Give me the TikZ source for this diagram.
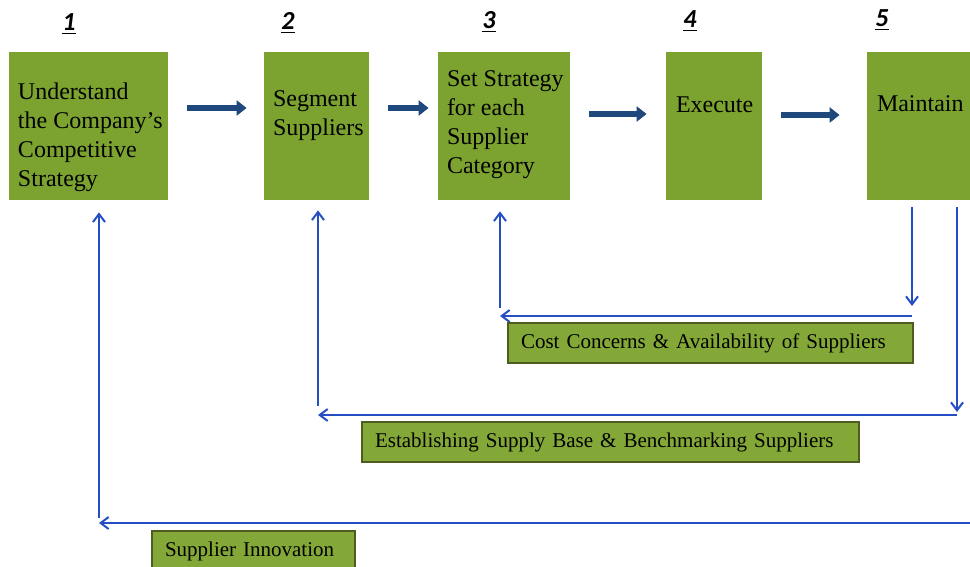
\documentclass[tikz,border=0pt]{standalone}
\usepackage{fontspec}
\setmainfont{Liberation Serif}
\newfontfamily\numfont{Carlito}
\usetikzlibrary{arrows.meta}

\definecolor{stepGreen}{RGB}{124,163,48}
\definecolor{noteGreen}{RGB}{132,168,56}
\definecolor{noteEdge}{RGB}{78,92,34}
\definecolor{flowBlue}{RGB}{31,73,125}
\definecolor{backBlue}{RGB}{38,78,196}

\tikzset{
  stepbox/.style={fill=stepGreen, minimum height=74pt, inner sep=0pt},
  steptext/.style={anchor=north west, inner sep=0pt, align=left, font=\fontsize{12}{14.4}\selectfont},
  stepnum/.style={font=\numfont\fontsize{13}{15}\selectfont\bfseries\itshape},
  flowarrow/.style={draw=flowBlue, line width=2.8pt, -{Triangle[length=5pt,width=7.5pt]}},
  backarrow/.style={draw=backBlue, line width=1pt, -{Straight Barb[length=4pt,width=6pt]}},
  notebox/.style={draw=noteEdge, fill=noteGreen, line width=1.3pt, minimum height=20pt, inner xsep=6.5pt, inner ysep=0pt, align=left, font=\fontsize{10.5}{12}\selectfont}
}

\begin{document}
\begin{tikzpicture}[x=0.5pt, y=0.5pt, yscale=-1]
    \useasboundingbox (0,0) rectangle (970,567);

    % Define the positions of the step numbers
    \coordinate (n1Pos) at (69,24);
    \coordinate (n2Pos) at (288,23);
    \coordinate (n3Pos) at (489,22);
    \coordinate (n4Pos) at (690,21);
    \coordinate (n5Pos) at (882,20);

    % Define the corners of the feedback lines
    \coordinate (costR) at (912,316);
    \coordinate (costL) at (500,316);
    \coordinate (baseR) at (957,415);
    \coordinate (baseL) at (318,415);
    \coordinate (innovR) at (970,523);
    \coordinate (innovL) at (99,523);

    % Draw the step numbers
    \node[stepnum] (n1) at (n1Pos) {\underline{1}};
    \node[stepnum] (n2) at (n2Pos) {\underline{2}};
    \node[stepnum] (n3) at (n3Pos) {\underline{3}};
    \node[stepnum] (n4) at (n4Pos) {\underline{4}};
    \node[stepnum] (n5) at (n5Pos) {\underline{5}};

    % Draw the step boxes
    \node[stepbox, minimum width=79.5pt] (s1) at (88.5,126) {};
    \node[stepbox, minimum width=52.5pt] (s2) at (316.5,126) {};
    \node[stepbox, minimum width=66pt] (s3) at (504,126) {};
    \node[stepbox, minimum width=48pt] (s4) at (714,126) {};
    \node[stepbox, minimum width=61.5pt] (s5) at (928.5,126) {};

    % Draw the texts in the boxes
    \node[steptext] (t1) at ([shift={(9,31)}]s1.north west) {Understand\\the Company's\\Competitive\\Strategy};
    \node[steptext] (t2) at ([shift={(9,39)}]s2.north west) {Segment\\Suppliers};
    \node[steptext] (t3) at ([shift={(9,19)}]s3.north west) {Set Strategy\\for each\\Supplier\\Category};
    \node[steptext] (t4) at ([shift={(10,45)}]s4.north west) {Execute};
    \node[steptext] (t5) at ([shift={(10,44)}]s5.north west) {Maintain};

    % Draw the arrows between the steps
    \draw[flowarrow] ([shift={(19,-18)}]s1.east) -- ([shift={(-17,-18)}]s2.west);
    \draw[flowarrow] ([shift={(19,-18)}]s2.east) -- ([shift={(-9,-18)}]s3.west);
    \draw[flowarrow] ([shift={(19,-12)}]s3.east) -- ([shift={(-19,-12)}]s4.west);
    \draw[flowarrow] ([shift={(19,-11)}]s4.east) -- ([shift={(-27,-11)}]s5.west);

    % Draw the feedback lines
    \draw[backarrow, shorten <=3.5pt, shorten >=5pt] (s5.south -| costR) -- (costR);
    \draw[backarrow] (costR) -- (costL);
    \draw[backarrow, shorten <=4pt, shorten >=5.5pt] (costL) -- (costL |- s3.south);
    \draw[backarrow, shorten <=3.5pt, shorten >=1.5pt] (s5.south -| baseR) -- (baseR);
    \draw[backarrow] (baseR) -- (baseL);
    \draw[backarrow, shorten <=4.5pt, shorten >=5pt] (baseL) -- (baseL |- s2.south);
    \draw[backarrow] (innovR) -- (innovL);
    \draw[backarrow, shorten <=2.5pt, shorten >=6pt] (innovL) -- (innovL |- s1.south);

    % Draw the feedback labels
    \node[notebox, text width=189.5pt] (costNote) at (710.5,343) {Cost Concerns \& Availability of Suppliers};
    \node[notebox, text width=235.5pt] (baseNote) at (610.5,442) {Establishing Supply Base \& Benchmarking Suppliers};
    \node[notebox, text width=88.5pt] (innovNote) at (253.5,551) {Supplier Innovation};
\end{tikzpicture}
\end{document}
